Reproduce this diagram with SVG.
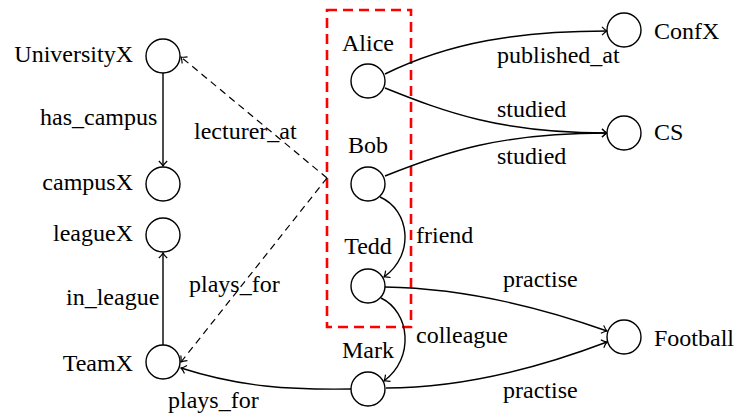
<svg xmlns="http://www.w3.org/2000/svg" width="739" height="417" viewBox="0 0 739 417">
<style>
  text { font-family: "Liberation Serif", "Times New Roman", serif; font-size: 24px; fill: #000; }
  .n { fill: #fff; stroke: #000; stroke-width: 1.4; }
  .e { fill: none; stroke: #000; stroke-width: 1.4; }
  .d { fill: none; stroke: #000; stroke-width: 1.2; stroke-dasharray: 7 5; }
  .l { text-anchor: end; }
  .c { text-anchor: middle; }
</style>
<defs>
  <marker id="arr" viewBox="-7 -6 9 12" markerWidth="9" markerHeight="12" refX="0" refY="0" orient="auto" markerUnits="userSpaceOnUse">
    <path d="M-5,-4.2 Q-2,-1 0,0 Q-2,1 -5,4.2" fill="none" stroke="#000" stroke-width="1.2" stroke-dasharray="none"/>
  </marker>
</defs>
<g id="group-box">
  <rect x="327" y="10" width="84" height="317" fill="none" stroke="#ff0000" stroke-width="2.6" stroke-dasharray="10 6"/>
</g>
<g id="connectors">
  <path class="e" d="M163,73 L163,166" marker-end="url(#arr)"/>
  <text x="40" y="125">has_campus</text>
  <path class="e" d="M163,345 L163,253" marker-end="url(#arr)"/>
  <text x="66" y="305">in_league</text>
  <path class="d" d="M327,178 L181,57" marker-end="url(#arr)"/>
  <text x="194" y="139">lecturer_at</text>
  <path class="d" d="M327,178 L181,362" marker-end="url(#arr)"/>
  <text x="189" y="292">plays_for</text>
  <path class="e" d="M352,389 C290,390 240,387 181,368" marker-end="url(#arr)"/>
  <text x="168" y="408">plays_for</text>
  <path class="e" d="M385,74 C450,42 520,31 607,31" marker-end="url(#arr)"/>
  <text x="497" y="63">published_at</text>
  <path class="e" d="M385,88 C445,112 500,133 607,133" marker-end="url(#arr)"/>
  <text x="497" y="117">studied</text>
  <path class="e" d="M385,176 C445,152 500,133 607,133" marker-end="url(#arr)"/>
  <text x="497" y="164">studied</text>
  <path class="e" d="M380,197 C410,210 415,255 384,277" marker-end="url(#arr)"/>
  <text x="416" y="243">friend</text>
  <path class="e" d="M381,298 C410,312 415,358 384,381" marker-end="url(#arr)"/>
  <text x="416" y="343">colleague</text>
  <path class="e" d="M385,287 C450,288 520,300 607,331" marker-end="url(#arr)"/>
  <text x="503" y="287">practise</text>
  <path class="e" d="M386,388 C450,388 520,375 607,342" marker-end="url(#arr)"/>
  <text x="503" y="398">practise</text>
</g>
<g id="node-universityx"><circle class="n" cx="163" cy="56" r="17"/><text class="l" x="133" y="62">UniversityX</text></g>
<g id="node-campusx"><circle class="n" cx="163" cy="184" r="17"/><text class="l" x="133" y="190">campusX</text></g>
<g id="node-leaguex"><circle class="n" cx="163" cy="235" r="17"/><text class="l" x="133" y="241">leagueX</text></g>
<g id="node-teamx"><circle class="n" cx="163" cy="362" r="17"/><text class="l" x="133" y="371">TeamX</text></g>
<g id="node-alice"><circle class="n" cx="368" cy="81" r="17"/><text class="c" x="368" y="51">Alice</text></g>
<g id="node-bob"><circle class="n" cx="368" cy="184" r="17"/><text class="c" x="368" y="153">Bob</text></g>
<g id="node-tedd"><circle class="n" cx="368" cy="286" r="17"/><text class="c" x="368" y="254">Tedd</text></g>
<g id="node-mark"><circle class="n" cx="368" cy="389" r="17"/><text class="c" x="368" y="358">Mark</text></g>
<g id="node-confx"><circle class="n" cx="624" cy="30" r="17"/><text x="654" y="39">ConfX</text></g>
<g id="node-cs"><circle class="n" cx="624" cy="133" r="17"/><text x="654" y="140">CS</text></g>
<g id="node-football"><circle class="n" cx="624" cy="337" r="17"/><text x="654" y="346">Football</text></g>
</svg>
